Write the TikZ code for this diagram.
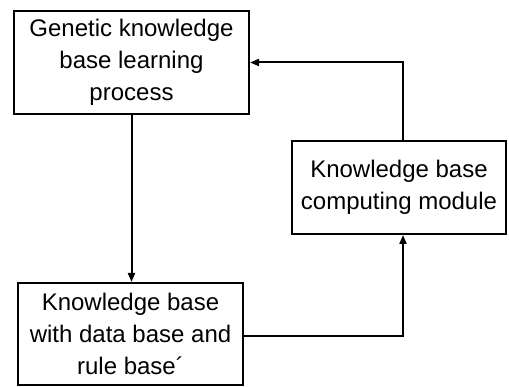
\documentclass[tikz,border=0pt]{standalone}
\usepackage{fontspec}
\setmainfont{Liberation Sans}
\usetikzlibrary{arrows.meta}
\begin{document}
\begin{tikzpicture}[x=1pt,y=-1pt,
  box/.style={draw,line width=2pt,rectangle,inner sep=0pt,align=center,
    font=\fontsize{24}{32}\selectfont},
  conn/.style={line width=2pt,-{Triangle[length=9pt,width=7pt]}}]
\useasboundingbox (0,0) rectangle (509,387);
\node[box,minimum width=235pt,minimum height=103pt] (top) at (131.5,62.5)
  {Genetic knowledge\\base learning\\process};
\node[box,minimum width=214pt,minimum height=93pt] (right) at (399,187.5)
  {Knowledge base\\computing module};
\node[box,minimum width=225pt,minimum height=102pt] (bot) at (130.5,334)
  {Knowledge base\\with data base and\\rule base´};
\draw[conn] (top.south) -- (top.south |- bot.north);
\draw[conn] ([yshift=-2pt]bot.east) -| ([xshift=4pt]right.south);
\draw[conn] ([xshift=4pt]right.north) |- (top.east);
\end{tikzpicture}
\end{document}
